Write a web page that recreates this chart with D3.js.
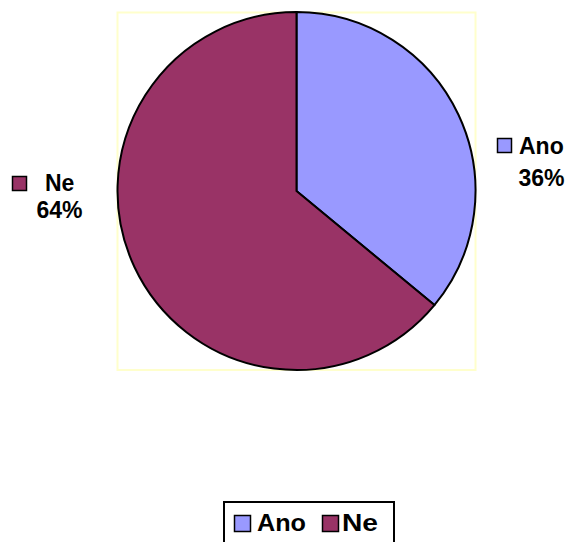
<!DOCTYPE html>
<html><head><meta charset="utf-8">
<script src="https://cdn.jsdelivr.net/npm/d3@7"></script>
<style>body{margin:0;background:#fff}svg{display:block}text{font-family:"Liberation Sans",Arial,sans-serif;font-weight:700;fill:#000}</style>
</head><body>
<svg id="c" width="568" height="542"></svg>
<script>
const categories = ["Ano", "Ne"];
const values = [36, 64];
const colors = ["#9999FF", "#993366"];
const labelTexts = ["36%", "64%"];

const svg = d3.select("#c");
const cx = 296.5, cy = 191, r = 179;

// plot area border
svg.append("rect").attr("x", 117.5).attr("y", 12.5).attr("width", 358).attr("height", 357.5)
  .attr("fill", "none").attr("stroke", "#FFFFCC").attr("stroke-width", 2);

const pie = d3.pie().sort(null).value(d => d)(values);
const arc = d3.arc().innerRadius(0).outerRadius(r);
const g = svg.append("g").attr("transform", `translate(${cx},${cy})`);
g.selectAll("path").data(pie).join("path")
  .attr("d", arc).attr("fill", (d, i) => colors[i])
  .attr("stroke", "#000").attr("stroke-width", 2).attr("stroke-linejoin", "round");

// data labels
const lab = [
  {sx: 497, sy: 138, tx: 519, ty: 154, px: 541.5, py: 186},
  {sx: 12, sy: 176, tx: 45, ty: 191, px: 59.5, py: 218}
];
categories.forEach((c, i) => {
  const L = lab[i];
  svg.append("rect").attr("x", L.sx + 0.5).attr("y", L.sy + 0.5).attr("width", 14).attr("height", 14)
    .attr("fill", colors[i]).attr("stroke", "#000").attr("stroke-width", 1.5);
  svg.append("text").attr("x", L.tx).attr("y", L.ty).attr("font-size", 23).text(c);
  svg.append("text").attr("x", L.px).attr("y", L.py).attr("font-size", 23)
    .attr("text-anchor", "middle").text(labelTexts[i]);
});

// legend
svg.append("rect").attr("x", 224).attr("y", 502).attr("width", 170).attr("height", 45)
  .attr("fill", "#fff").attr("stroke", "#000").attr("stroke-width", 2);
const leg = [{sx: 234, tx: 257, tl: 49}, {sx: 322, tx: 342, tl: 36}];
categories.forEach((c, i) => {
  svg.append("rect").attr("x", leg[i].sx + 0.5).attr("y", 515.5).attr("width", 16).attr("height", 16)
    .attr("fill", colors[i]).attr("stroke", "#000").attr("stroke-width", 1.5);
  svg.append("text").attr("x", leg[i].tx).attr("y", 531).attr("font-size", 23)
    .attr("textLength", leg[i].tl).attr("lengthAdjust", "spacingAndGlyphs").text(c);
});
</script>
</body></html>
